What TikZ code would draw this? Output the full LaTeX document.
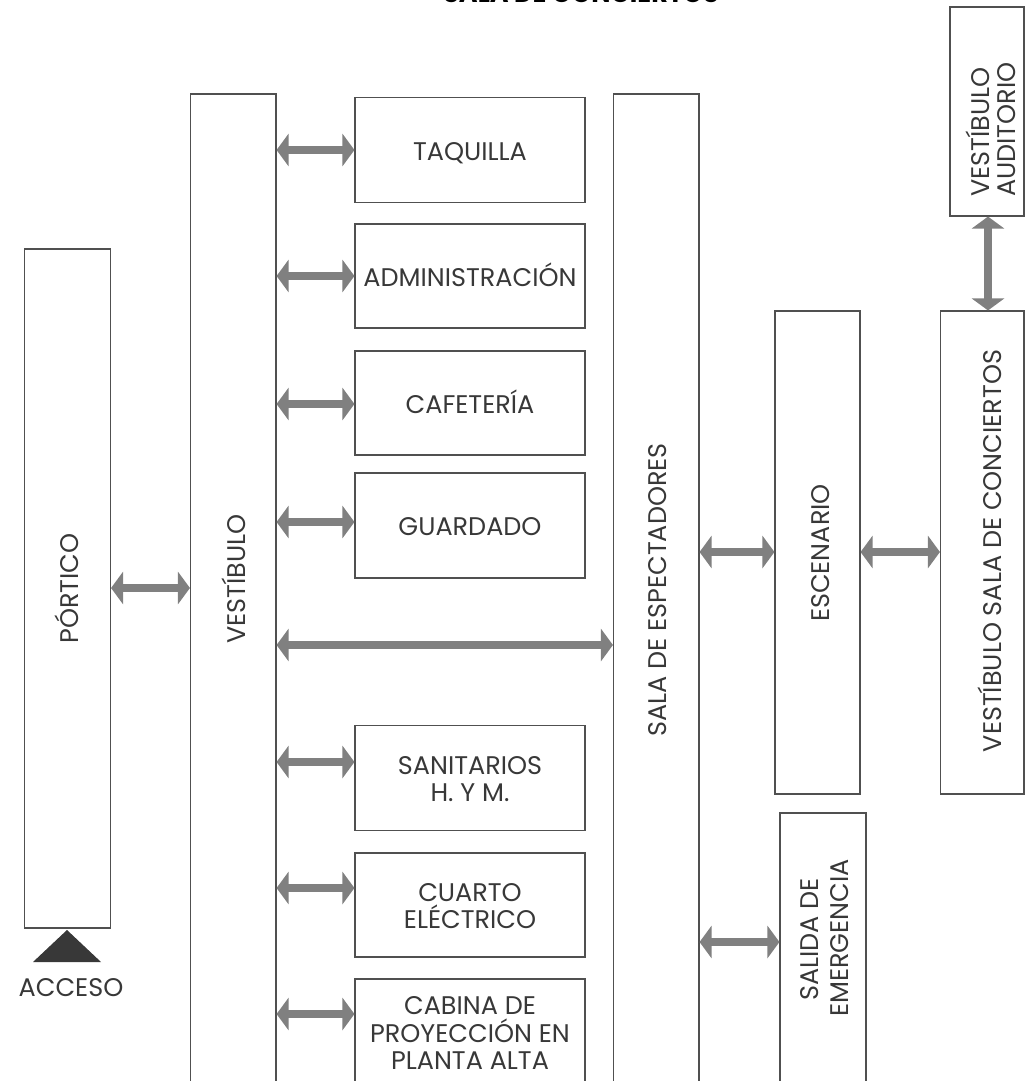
\documentclass[tikz,border=0pt]{standalone}
\usepackage{fontspec}
\setmainfont{Poppins}
\usetikzlibrary{arrows.meta}
\definecolor{boxline}{HTML}{505050}
\definecolor{arr}{HTML}{808080}
\definecolor{txt}{HTML}{383838}
\tikzset{
 room/.style={draw=boxline, line width=1.1pt, inner sep=0pt},
 lbl/.style={text=txt, font=\fontsize{25.5}{27}\selectfont, inner sep=0pt, anchor=base},
 vlbl/.style={lbl, rotate=90},
 link/.style={draw=arr, line width=8pt, {Triangle[width=32pt,length=12pt]}-{Triangle[width=32pt,length=12pt]}},
}
\begin{document}
\begin{tikzpicture}[x=1pt,y=-1pt]
\useasboundingbox (0,0) rectangle (1025,1081);
% title (cut at top, as in the reference)
\node[text=black, font=\bfseries\fontsize{25.5}{28}\selectfont, inner sep=0pt, anchor=base] (title) at (581,3) {SALA DE CONCIERTOS};
% rooms
\node[room, minimum width=86pt, minimum height=679pt] (portico) at (67.5,588.5) {};
\node[room, minimum width=85.5pt, minimum height=996pt] (vest) at (233.25,592) {};
\node[room, minimum width=230pt, minimum height=105pt] (taq) at (470,150) {};
\node[room, minimum width=230pt, minimum height=104pt] (adm) at (470,276) {};
\node[room, minimum width=230pt, minimum height=104pt] (caf) at (470,403) {};
\node[room, minimum width=230pt, minimum height=105pt] (gua) at (470,525.5) {};
\node[room, minimum width=230pt, minimum height=105pt] (san) at (470,778) {};
\node[room, minimum width=230pt, minimum height=104pt] (cua) at (470,905) {};
\node[room, minimum width=230pt, minimum height=111pt] (cab) at (470,1034.5) {};
\node[room, minimum width=85.5pt, minimum height=996pt] (sala) at (656.25,592) {};
\node[room, minimum width=85pt, minimum height=483pt] (esc) at (817.5,552.5) {};
\node[room, minimum width=83.5pt, minimum height=483pt] (vsc) at (982.25,552.5) {};
\node[room, minimum width=74pt, minimum height=209pt] (vaud) at (987,111.5) {};
\node[room, minimum width=86pt, minimum height=277pt] (sal) at (823,951.5) {};
% access triangle
\fill[txt] (33,962) -- (67,930) -- (101,962) -- cycle;
% labels
\node[lbl] (lacc) at (71,996) {ACCESO};
\node[vlbl] (lpor) at (78,588.5) {PÓRTICO};
\node[vlbl] (lvest) at (245,579) {VESTÍBULO};
\node[lbl] (ltaq) at (470,160) {TAQUILLA};
\node[lbl] (ladm) at (470,286) {ADMINISTRACIÓN};
\node[lbl] (lcaf) at (470,413) {CAFETERÍA};
\node[lbl] (lgua) at (470,535) {GUARDADO};
\node[lbl] (lsan1) at (470,774) {SANITARIOS};
\node[lbl] (lsan2) at (470,801.5) {H. Y M.};
\node[lbl] (lcua1) at (470,901) {CUARTO};
\node[lbl] (lcua2) at (470,928) {ELÉCTRICO};
\node[lbl] (lcab1) at (470,1014) {CABINA DE};
\node[lbl] (lcab2) at (470,1042) {PROYECCIÓN EN};
\node[lbl] (lcab3) at (470,1069) {PLANTA ALTA};
\node[vlbl] (lsala) at (666,590) {SALA DE ESPECTADORES};
\node[vlbl] (lesc) at (829,553) {ESCENARIO};
\node[vlbl] (lvsc) at (1001,551) {VESTÍBULO SALA DE CONCIERTOS};
\node[vlbl, anchor=base west] (lvau1) at (989,197) {VESTÍBULO};
\node[vlbl, anchor=base west] (lvau2) at (1015,197) {AUDITORIO};
\node[vlbl] (lsal1) at (818,939.5) {SALIDA DE};
\node[vlbl] (lsal2) at (848,938) {EMERGENCIA};
% connector levels
\coordinate (yPor) at (0,588);
\coordinate (yCaf) at (0,404);
\coordinate (yGua) at (0,522);
\coordinate (yLong) at (0,645);
\coordinate (ySan) at (0,762);
\coordinate (yCua) at (0,888);
\coordinate (yCab) at (0,1014);
\coordinate (yEsc) at (0,552);
\coordinate (ySal) at (0,942);
\coordinate (xAud) at (988,0);
% connectors
\draw[link] (portico.east |- yPor) -- (vest.west |- yPor);
\draw[link] (vest.east |- taq) -- (taq.west);
\draw[link] (vest.east |- adm) -- (adm.west);
\draw[link] (vest.east |- yCaf) -- (caf.west |- yCaf);
\draw[link] (vest.east |- yGua) -- (gua.west |- yGua);
\draw[link] (vest.east |- yLong) -- (sala.west |- yLong);
\draw[link] (vest.east |- ySan) -- (san.west |- ySan);
\draw[link] (vest.east |- yCua) -- (cua.west |- yCua);
\draw[link] (vest.east |- yCab) -- (cab.west |- yCab);
\draw[link] (sala.east |- yEsc) -- (esc.west |- yEsc);
\draw[link] (esc.east |- yEsc) -- (vsc.west |- yEsc);
\draw[link] (sala.east |- ySal) -- (sal.west |- ySal);
\draw[link] (xAud |- vaud.south) -- (xAud |- vsc.north);
\end{tikzpicture}
\end{document}
